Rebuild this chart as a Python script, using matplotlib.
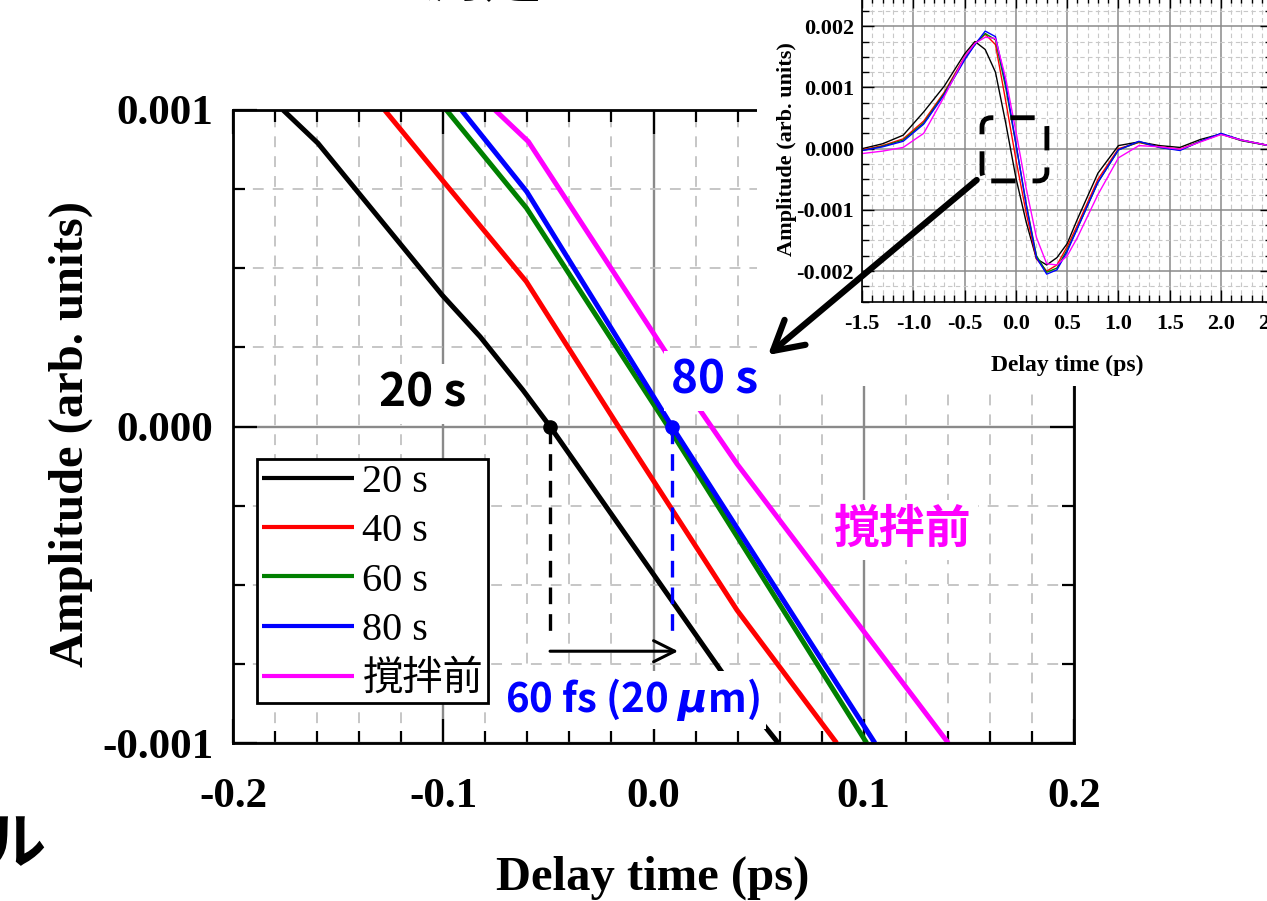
import matplotlib
matplotlib.use("Agg")
import matplotlib.pyplot as plt
from matplotlib.patches import FancyBboxPatch, FancyArrowPatch, Rectangle
from matplotlib.ticker import MultipleLocator, FixedLocator, StrMethodFormatter

plt.rcParams["axes.unicode_minus"] = False
plt.rcParams["mathtext.fontset"] = "dejavusans"
plt.rcParams["font.family"] = ["Liberation Serif", "Noto Sans CJK JP"]
plt.rcParams["font.weight"] = "bold"
plt.rcParams["axes.labelweight"] = "bold"

SANS = ["Noto Sans CJK JP", "DejaVu Sans"]

labels = ["20 s", "40 s", "60 s", "80 s", "撹拌前"]
colors = ["black", "red", "green", "blue", "magenta"]

# Zoomed view around the zero crossing (main axes)
delay_20s = [-0.1762, -0.1596, -0.1005, -0.0825, -0.0621, -0.0492, 0.0063, 0.0340, 0.0593]
amp_20s = [0.00100, 0.000895, 0.000415, 0.000284, 0.000115, 0.0, -0.000527, -0.000790, -0.00100]
delay_40s = [-0.1279, -0.1005, -0.0605, -0.0167, 0.0397, 0.0871]
amp_40s = [0.00100, 0.000779, 0.000458, 0.0, -0.000580, -0.00100]
delay_60s = [-0.0985, -0.0604, 0.0069, 0.1014]
amp_60s = [0.00100, 0.000690, 0.0, -0.00100]
delay_80s = [-0.0914, -0.0603, 0.0088, 0.1053]
amp_80s = [0.00100, 0.000742, 0.0, -0.00100]
delay_before = [-0.0754, -0.0595, 0.0078, 0.0221, 0.0397, 0.1402]
amp_before = [0.00100, 0.000900, 0.000215, 0.000052, -0.000118, -0.00100]

# zero crossings marked with dots, and the shift arrow
zero_20s = -0.0492
zero_80s = 0.0088
drop_bottom = -0.00067
shift_y = -0.00071
shift_end = 0.0117

# Full waveforms (inset)
inset_delay = [-1.5, -1.3, -1.1, -0.9, -0.7, -0.5, -0.4, -0.3, -0.2, -0.1, 0.0, 0.1, 0.2,
               0.3, 0.4, 0.5, 0.6, 0.8, 1.0, 1.2, 1.4, 1.6, 1.8, 2.0, 2.2, 2.5]
wave_20s = [0.00000, 0.00008, 0.00022, 0.00060, 0.00102, 0.00155, 0.00175, 0.00162, 0.00125,
            0.00042, -0.00048, -0.00120, -0.00180, -0.00190, -0.00178, -0.00155, -0.00115,
            -0.00040, 0.00005, 0.00011, 0.00005, 0.00002, 0.00015, 0.00024, 0.00013, 0.00004]
wave_40s = [-0.00002, 0.00005, 0.00016, 0.00045, 0.00092, 0.00150, 0.00172, 0.00187, 0.00170,
            0.00078, -0.00018, -0.00105, -0.00180, -0.00200, -0.00190, -0.00160, -0.00125,
            -0.00050, 0.00000, 0.00010, 0.00003, -0.00001, 0.00012, 0.00024, 0.00014, 0.00004]
wave_60s = [-0.00003, 0.00004, 0.00014, 0.00042, 0.00090, 0.00148, 0.00170, 0.00188, 0.00178,
            0.00100, 0.00007, -0.00090, -0.00175, -0.00202, -0.00195, -0.00165, -0.00130,
            -0.00055, -0.00002, 0.00011, 0.00002, -0.00002, 0.00012, 0.00024, 0.00014, 0.00004]
wave_80s = [-0.00003, 0.00003, 0.00012, 0.00040, 0.00088, 0.00145, 0.00170, 0.00192, 0.00183,
            0.00107, 0.00008, -0.00092, -0.00178, -0.00205, -0.00198, -0.00168, -0.00130,
            -0.00055, -0.00002, 0.00012, 0.00002, -0.00003, 0.00012, 0.00025, 0.00014, 0.00004]
wave_before = [-0.00008, -0.00004, 0.00002, 0.00025, 0.00085, 0.00150, 0.00172, 0.00182, 0.00180,
               0.00115, 0.00028, -0.00065, -0.00145, -0.00188, -0.00190, -0.00175, -0.00145,
               -0.00075, -0.00015, 0.00005, 0.00003, -0.00001, 0.00011, 0.00023, 0.00014, 0.00004]

W, H = 1267, 901
fig = plt.figure(figsize=(W / 100, H / 100), dpi=100)


def fx(px):
    return px / W


def fy(py):
    return 1 - py / H


# ---------------- main axes ----------------
ax = fig.add_axes([fx(233), fy(743), fx(1074) - fx(233), fy(110) - fy(743)], zorder=1)
main_sets = [(delay_20s, amp_20s), (delay_40s, amp_40s), (delay_60s, amp_60s),
             (delay_80s, amp_80s), (delay_before, amp_before)]
for (xs, ys), lab, col in zip(main_sets, labels, colors):
    ax.plot(xs, ys, color=col, lw=3.6, label=lab, solid_capstyle="butt")

ax.plot([zero_20s], [0], "o", color="black", ms=9.5, zorder=4)
ax.plot([zero_80s], [0], "o", color="blue", ms=9.5, zorder=4)
ax.plot([zero_20s, zero_20s], [0, drop_bottom], color="black", lw=2.4, ls=(0, (5, 3)))
ax.plot([zero_80s, zero_80s], [0, drop_bottom], color="blue", lw=2.4, ls=(0, (5, 3)))
ax.annotate("", xy=(shift_end, shift_y), xytext=(zero_20s, shift_y),
            arrowprops=dict(arrowstyle="->", lw=2.2, color="black", mutation_scale=38,
                            shrinkA=0, shrinkB=0))

ax.set_xlim(-0.2, 0.2)
ax.set_ylim(-0.001, 0.001)
ax.xaxis.set_major_locator(FixedLocator([-0.2, -0.1, 0.0, 0.1, 0.2]))
ax.xaxis.set_major_formatter(StrMethodFormatter("{x:.1f}"))
ax.xaxis.set_minor_locator(MultipleLocator(0.02))
ax.yaxis.set_major_locator(FixedLocator([-0.001, 0.0, 0.001]))
ax.yaxis.set_major_formatter(StrMethodFormatter("{x:.3f}"))
ax.yaxis.set_minor_locator(MultipleLocator(0.00025))

ax.set_axisbelow(True)
ax.grid(which="major", color="#8a8a8a", lw=1.7, ls="-")
ax.grid(which="minor", color="#c2c2c2", lw=1.3, ls=(0, (6, 5)))
ax.tick_params(which="both", direction="in", top=True, right=True, width=1.6, labelsize=31)
ax.tick_params(which="major", length=17)
ax.tick_params(which="minor", length=8.5)
ax.tick_params(axis="x", pad=25)
ax.tick_params(axis="y", pad=14)
for s in ax.spines.values():
    s.set_linewidth(2.0)

ax.set_xlabel("Delay time (ps)", fontsize=35, fontweight="bold")
ax.set_ylabel("Amplitude (arb. units)", fontsize=35, fontweight="bold")
ax.xaxis.set_label_coords(0.499, -0.178)
ax.yaxis.set_label_coords(-0.166, 0.488)

leg = ax.legend(loc="upper left", bbox_to_anchor=(0.0285, 0.4487), borderaxespad=0,
                borderpad=0.12, handlelength=2.3, handletextpad=0.2, labelspacing=0.3,
                fancybox=False, framealpha=1, edgecolor="black",
                prop={"family": ["Liberation Serif", "Noto Sans CJK JP"], "size": 29,
                      "weight": "normal"})
leg.get_frame().set_linewidth(2.0)
for ln in leg.get_lines():
    ln.set_linewidth(3.0)

white_box = dict(facecolor="white", edgecolor="none", pad=5)
ax.text(-0.1099, 0.000103, "20 s", color="black", fontsize=33, family=SANS,
        ha="center", va="center", bbox=white_box)
ax.text(0.0292, 0.000144, "80 s", color="blue", fontsize=33, family=SANS,
        ha="center", va="center", bbox=dict(facecolor="white", edgecolor="none", pad=5))
ax.text(0.1182, -0.000327, "撹拌前", color="magenta", fontsize=33, family=SANS,
        ha="center", va="center", bbox=white_box)
ax.text(-0.0098, -0.000864, r"60 fs (20 $\mu$m)", color="blue", fontsize=29, family=SANS,
        ha="center", va="center", bbox=dict(facecolor="white", edgecolor="none", pad=4))

# white area behind the inset
fig.add_artist(Rectangle((fx(757), fy(386)), 1 - fx(757), fy(0) - fy(386),
                         transform=fig.transFigure, facecolor="white", edgecolor="none",
                         zorder=2))

# ---------------- inset ----------------
ins = fig.add_axes([fx(862.2), fy(301.7), fx(1272.2) - fx(862.2), fy(-4.4) - fy(301.7)], zorder=3)
waves = [wave_20s, wave_40s, wave_60s, wave_80s, wave_before]
for ys, col in zip(waves, colors):
    ins.plot(inset_delay, ys, color=col, lw=1.0)

ins.set_xlim(-1.5, 2.5)
ins.set_ylim(-0.0025, 0.0025)
ins.xaxis.set_major_locator(MultipleLocator(0.5))
ins.xaxis.set_major_formatter(StrMethodFormatter("{x:.1f}"))
ins.xaxis.set_minor_locator(MultipleLocator(0.1))
ins.yaxis.set_major_locator(MultipleLocator(0.001))
ins.yaxis.set_major_formatter(StrMethodFormatter("{x:.3f}"))
ins.yaxis.set_minor_locator(MultipleLocator(0.00025))
ins.set_axisbelow(True)
ins.grid(which="major", color="#8a8a8a", lw=1.1, ls="-")
ins.grid(which="minor", color="#c8c8c8", lw=0.8, ls=(0, (4, 3)))
ins.tick_params(which="both", direction="in", top=True, right=True, width=1.0, labelsize=16)
ins.tick_params(which="major", length=8.5)
ins.tick_params(which="minor", length=5)
ins.tick_params(axis="x", pad=9)
ins.tick_params(axis="y", pad=6)
for s in ins.spines.values():
    s.set_linewidth(1.2)
ins.set_xlabel("Delay time (ps)", fontsize=17, fontweight="bold")
ins.set_ylabel("Amplitude (arb. units)", fontsize=16, fontweight="bold")
ins.xaxis.set_label_coords(0.499, -0.172)
ins.yaxis.set_label_coords(-0.16, 0.5)

# dashed zoom frame in the inset
aspect = (0.001 / 61.5) / (1 / 102.6)
ins.add_patch(FancyBboxPatch((-0.331, -0.000527), 0.633, 0.001032,
                             boxstyle="round,pad=0,rounding_size=0.09", mutation_aspect=aspect,
                             facecolor="none", edgecolor="black", lw=3.5,
                             ls=(0, (5, 3.5)), zorder=5))

# thick arrow from the inset to the main plot
fig.add_artist(FancyArrowPatch((fx(976.7), fy(180)), (fx(768), fy(355)),
                               transform=fig.transFigure, arrowstyle="->,head_length=0.8,head_width=0.45",
                               mutation_scale=26, lw=4.5, color="black", zorder=4,
                               shrinkA=0, shrinkB=0))

# fragments of surrounding slide text
fig.text(fx(238), fy(-4), "による測定", fontsize=44, family=SANS, ha="left", va="baseline")
fig.text(fx(46), fy(845), "ル", fontsize=44, family=SANS, ha="right", va="center")

fig.savefig("out.png", dpi=100)
